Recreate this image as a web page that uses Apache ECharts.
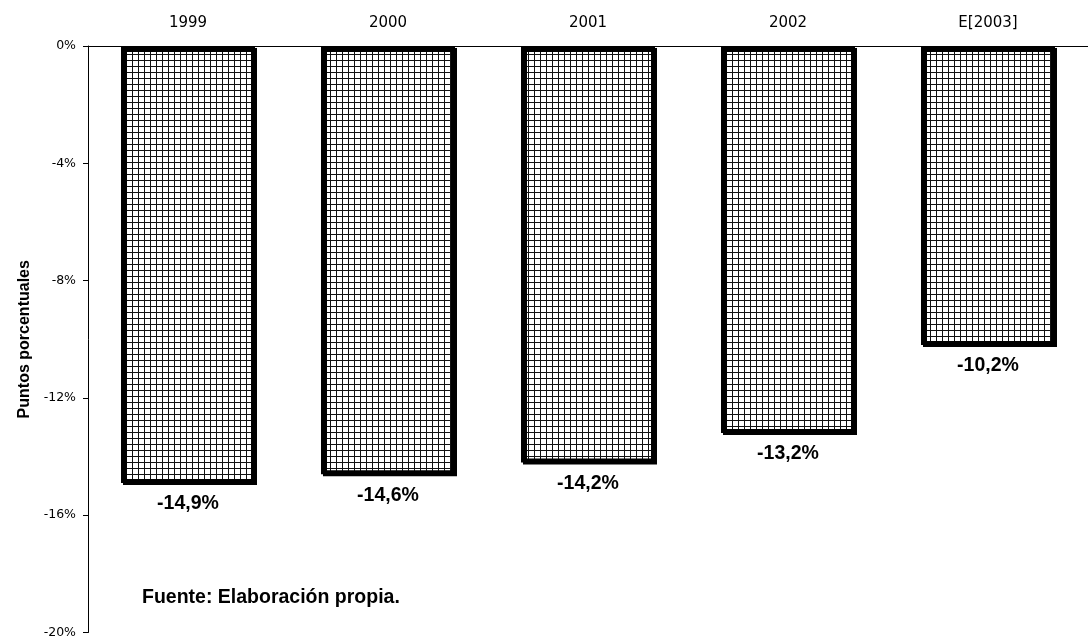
<!DOCTYPE html>
<html><head><meta charset="utf-8">
<script src="https://cdn.jsdelivr.net/npm/echarts@6/dist/echarts.min.js"></script>
<style>html,body{margin:0;padding:0;background:#fff}#c{width:1088px;height:639px}</style>
</head><body><div id="c"></div>
<script>
const categories = ['1999', '2000', '2001', '2002', 'E[2003]'];
const values = [-14.9, -14.6, -14.2, -13.2, -10.2];
const yTicks = [0, -4, -8, -12, -16, -20];

function makePattern() {
  const c = document.createElement('canvas');
  c.width = 6; c.height = 6;
  const g = c.getContext('2d');
  g.fillStyle = '#fff'; g.fillRect(0, 0, 6, 6);
  g.fillStyle = '#111';
  g.fillRect(0, 0, 6, 1);
  g.fillRect(0, 0, 1, 6);
  return c;
}

const chart = echarts.init(document.getElementById('c'), null, {renderer: 'canvas'});
chart.setOption({
  animation: false,
  backgroundColor: '#fff',
  grid: {left: 88, top: 46, width: 1012, bottom: 6, containLabel: false},
  xAxis: {
    type: 'category', position: 'top', data: categories,
    axisLine: {lineStyle: {color: '#000', width: 1}},
    axisTick: {inside: true, length: 5, lineStyle: {color: '#000'}},
    axisLabel: {color: '#000', fontFamily: 'DejaVu Sans', fontSize: 15, margin: 15}
  },
  yAxis: {
    type: 'value', min: -20, max: 0, interval: 4,
    name: 'Puntos porcentuales', nameLocation: 'middle', nameGap: 52,
    nameTextStyle: {fontFamily: 'Liberation Sans', fontWeight: 'bold', fontSize: 16, color: '#000'},
    axisLine: {show: true, lineStyle: {color: '#000', width: 1}},
    axisTick: {show: true, length: 5, lineStyle: {color: '#000'}},
    splitLine: {show: false},
    axisLabel: {color: '#000', fontFamily: 'DejaVu Sans', fontSize: 12.5, margin: 12,
      formatter: v => v + '%'}
  },
  graphic: [{
    type: 'text', left: 142, top: 588,
    style: {text: 'Fuente: Elaboración propia.', font: 'bold 19.5px "Liberation Sans"', fill: '#000'}
  }],
  series: [{
    type: 'bar', data: values, barWidth: '67%',
    itemStyle: {
      color: {image: makePattern(), repeat: 'repeat'},
      borderColor: '#000', borderWidth: 4,
      shadowColor: '#000', shadowOffsetX: 2, shadowOffsetY: 2, shadowBlur: 0
    },
    label: {
      show: true, position: 'bottom', distance: 11,
      fontFamily: 'Liberation Sans', fontWeight: 'bold', fontSize: 19.5, color: '#000',
      formatter: p => p.value.toFixed(1).replace('.', ',') + '%'
    }
  }]
});
</script></body></html>
